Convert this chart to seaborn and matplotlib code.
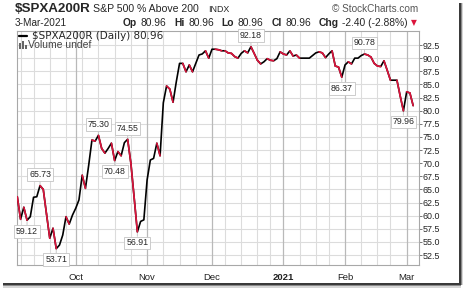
import numpy as np
import pandas as pd
import matplotlib
matplotlib.use('Agg')
import matplotlib.pyplot as plt
import seaborn as sns
from matplotlib.collections import LineCollection
from matplotlib.patches import Rectangle
from matplotlib.lines import Line2D
import matplotlib.ticker as mticker

# ---------------- data ----------------
values = [63.6, 59.3, 61.6, 59.12, 59.8, 63.5, 63.6, 65.73, 65.0, 60.3,
          55.7, 57.6, 53.71, 54.4, 56.3, 59.8, 58.4, 60.1, 61.4, 63.0,
          67.7, 65.2, 69.6, 74.4, 74.2, 75.30, 72.8, 71.9, 72.8, 73.8,
          70.48, 72.2, 71.4, 73.9, 74.55, 70.0, 63.5, 56.91, 58.9, 59.2,
          66.8, 70.6, 70.9, 73.8, 71.4, 81.5, 84.7, 84.1, 81.6, 85.5,
          89.0, 89.0, 87.4, 88.7, 87.4, 89.0, 90.6, 90.8, 91.4, 90.0,
          91.7, 91.7, 91.6, 91.4, 91.4, 91.0, 90.9, 90.3, 90.0, 90.9,
          91.4, 91.0, 92.18, 90.9, 89.6, 88.9, 89.3, 89.9, 89.6, 89.5,
          89.9, 91.2, 90.8, 90.6, 91.4, 90.4, 90.6, 90.0, 90.0, 90.0,
          90.0, 90.5, 91.0, 91.2, 91.0, 90.1, 90.8, 91.4, 88.5, 88.3,
          86.37, 88.7, 89.3, 88.9, 90.0, 90.0, 90.5, 90.78, 90.6, 90.2,
          89.0, 88.5, 88.4, 89.5, 87.7, 85.8, 85.8, 85.8, 82.8, 79.96,
          83.6, 83.36, 80.96]
ann_values = [59.12, 65.73, 53.71, 75.30, 70.48, 74.55, 56.91, 92.18, 86.37, 90.78, 79.96]
y_ticks = [52.5 + 2.5 * k for k in range(17)]
month_labels = ['Oct', 'Nov', 'Dec', '2021', 'Feb', 'Mar']
holidays = ['2020-09-07', '2020-11-26', '2020-12-25', '2021-01-01', '2021-01-18', '2021-02-15']
dates = pd.bdate_range('2020-09-04', '2021-03-03', freq='C', holidays=holidays)

df = pd.DataFrame({'idx': np.arange(len(values)), 'date': dates[:len(values)], 'val': values})

# ---------------- style ----------------
sns.set_style('white')
plt.rcParams['font.family'] = ['Liberation Sans', 'DejaVu Sans']

W, H = 464, 288
fig = plt.figure(figsize=(W / 100, H / 100), dpi=100)
fig.patch.set_facecolor('white')

def fx(x):
    return x / W

def fy(y):
    return 1 - y / H

L, R, T, B = 16.5, 419, 31, 265
ax = fig.add_axes([fx(L), fy(B), (R - L) / W, (B - T) / H])

# grid positions from calendar
months = df['date'].dt.month.values
wdays = df['date'].dt.weekday.values
month_idx = [i for i in range(1, len(df)) if months[i] != months[i - 1]]
week_idx = [i for i in range(1, len(df)) if wdays[i] < wdays[i - 1]
            and all(abs(i - m) > 1 for m in month_idx)]

for yv in y_ticks:
    ax.axhline(yv, color='#dcdcdc', lw=0.8, zorder=0)
for w in week_idx:
    ax.axvline(w, color='#dcdcdc', lw=0.8, zorder=0)
for m in month_idx:
    ax.axvline(m, color='#b9b9b9', lw=0.9, zorder=0)

# line
sns.lineplot(data=df, x='idx', y='val', color='black', lw=1.2, ax=ax, zorder=3)
segs = []
for i in range(len(values) - 1):
    if values[i + 1] < values[i]:
        segs.append([(i, values[i]), (i + 1, values[i + 1])])
ax.add_collection(LineCollection(segs, colors='#dc143c', linewidths=1.2, zorder=4,
                                 capstyle='round'))

# annotations
for v in ann_values:
    i = int(np.argmin(np.abs(np.array(values) - v)))
    nb = [values[j] for j in (i - 1, i + 1) if 0 <= j < len(values)]
    above = v >= max(nb)
    off = 8 if above else -8
    ax.annotate(f'{v:.2f}', xy=(i, v), xytext=(0, off), textcoords='offset points',
                ha='center', va='center', fontsize=6.3, zorder=6,
                bbox=dict(boxstyle='square,pad=0.22', fc='white', ec='#c4c4c4', lw=0.6),
                arrowprops=dict(arrowstyle='-', color='#c8c8c8', lw=0.7,
                                shrinkA=0, shrinkB=1))

ax.set_xlim(-0.25, 123.8)
ax.set_ylim(50.6, 95.17)
ax.set_xlabel('')
ax.set_ylabel('')

ax.yaxis.tick_right()
ax.yaxis.set_major_locator(mticker.FixedLocator(y_ticks))
ax.yaxis.set_major_formatter(mticker.FormatStrFormatter('%.1f'))
ax.tick_params(axis='y', which='major', direction='out', length=2, width=0.7,
               color='#777777', labelsize=6.4, pad=0.8, labelcolor='#222222',
               left=False, right=True)

ax.xaxis.set_major_locator(mticker.FixedLocator(month_idx))
ax.xaxis.set_major_formatter(mticker.FixedFormatter(month_labels))
ax.xaxis.set_minor_locator(mticker.FixedLocator(list(range(len(values)))))
ax.tick_params(axis='x', which='major', direction='out', length=2.5, width=0.7,
               color='#999999', labelsize=6.8, pad=3, labelcolor='#222222')
ax.tick_params(axis='x', which='minor', direction='out', length=2.2, width=0.5,
               color='#aaaaaa')
for lab in ax.get_xticklabels():
    if lab.get_text() == '2021':
        lab.set_fontweight('bold')

for s in ax.spines.values():
    s.set_color('#a8a8a8')
    s.set_linewidth(0.8)

# ---------------- header texts ----------------
fig.text(fx(15), fy(9), '$SPXA200R', fontsize=9.6, fontweight='bold', va='center', ha='left')
fig.text(fx(93), fy(9.5), 'S&P 500 % Above 200', fontsize=7.6, va='center', ha='left')
fig.text(fx(208), fy(9.5), 'INDX', fontsize=6.4, va='center', ha='left')
fig.text(fx(418), fy(9.5), '© StockCharts.com', fontsize=7.2, va='center', ha='right',
         color='#555555')
fig.text(fx(15), fy(23), '3-Mar-2021', fontsize=7.2, va='center', ha='left')

pieces = [('Op', 'bold'), ('80.96', 'normal'), ('Hi', 'bold'), ('80.96', 'normal'),
          ('Lo', 'bold'), ('80.96', 'normal'), ('Cl', 'bold'), ('80.96', 'normal'),
          ('Chg', 'bold'), ('-2.40 (-2.88%)', 'normal')]
fig.canvas.draw()
renderer = fig.canvas.get_renderer()
texts = []
widths = []
for txt, wgt in pieces:
    t = fig.text(0, fy(23), txt, fontsize=7.4, fontweight=wgt, va='center', ha='left')
    widths.append(t.get_window_extent(renderer=renderer).width)
    texts.append(t)
start, end = 123.0, 408.0
g = (end - start - sum(widths)) / 13.0
xpos = start
for k, t in enumerate(texts):
    t.set_x(fx(xpos))
    xpos += widths[k] + (g if k % 2 == 0 else 2 * g)
fig.text(fx(411), fy(23), '▼', fontsize=5.5, color='#dc143c', va='center', ha='left',
         family=['DejaVu Sans'])

# legend inside plot
fig.add_artist(Line2D([fx(18.5), fx(27)], [fy(36), fy(36)], color='black', lw=1.6))
fig.text(fx(32), fy(36), '$SPXA200R (Daily) 80.96', fontsize=7.5, va='center', ha='left',
         family=['DejaVu Sans'])
for k, hgt in enumerate([5, 7, 4]):
    fig.add_artist(Rectangle((fx(19.5 + k * 2.6), fy(48.5)), 1.9 / W, hgt / H,
                             color='#666666', lw=0))
fig.text(fx(28.5), fy(45), 'Volume undef', fontsize=7.5, va='center', ha='left',
         color='#444444')

# shadow frame
for (y0, y1, c) in [(283, 284.6, '#3a3a3a'), (284.6, 286.2, '#8a8a8a'), (286.2, 288, '#d6d6d6')]:
    fig.add_artist(Rectangle((fx(3), fy(y1)), (461 - 3) / W, (y1 - y0) / H, color=c, lw=0))
for (x0, x1, c) in [(459, 460.6, '#3a3a3a'), (460.6, 462.2, '#8a8a8a'), (462.2, 464, '#d6d6d6')]:
    fig.add_artist(Rectangle((fx(x0), fy(284.6)), (x1 - x0) / W, (284.6 - 3) / H, color=c, lw=0))

fig.savefig('out.png', dpi=100, facecolor='white')
